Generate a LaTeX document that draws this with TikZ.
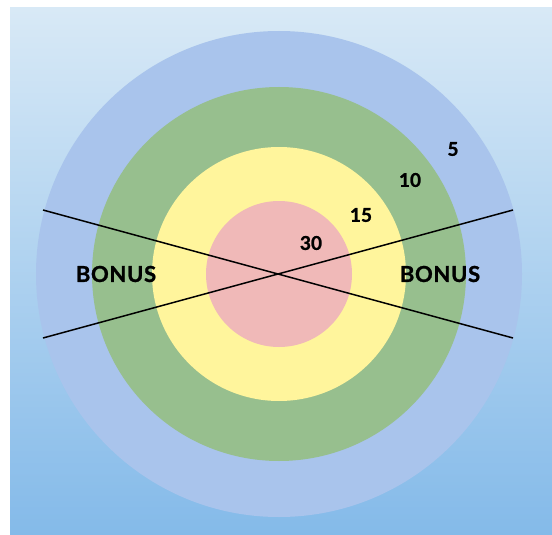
\documentclass[tikz,border=0pt]{standalone}
\usepackage{fontspec}
\setmainfont{Lato}
\newfontfamily\heavyfont{Lato}[BoldFeatures={FakeBold=1.2}]
\definecolor{ringblue}{HTML}{A9C4EC}
\definecolor{ringgreen}{HTML}{97BF8E}
\definecolor{ringyellow}{HTML}{FFF59C}
\definecolor{ringpink}{HTML}{F0B9B8}
\definecolor{skytop}{HTML}{D8E9F6}
\definecolor{skybottom}{HTML}{84BAE9}
\tikzset{
  score/.style={font=\heavyfont\bfseries\fontsize{19}{19}\selectfont},
  bonus/.style={font=\heavyfont\bfseries\fontsize{22}{22}\selectfont\addfontfeatures{LetterSpace=3}}
}
\begin{document}
\begin{tikzpicture}[x=1pt, y=-1pt]
  \useasboundingbox (0,0) rectangle (552,535);
  \shade[top color=skytop, bottom color=skybottom] (10,8) rectangle (552,535);
  % the target rings, outside in
  \foreach \r/\col in {243/ringblue, 187/ringgreen, 127/ringyellow, 73/ringpink} {
    \fill[\col] (279,274) circle (\r);
  }
  % scores
  \foreach \name/\x/\y/\pts in {five/453/149/5, ten/410/180/10, fifteen/361/215/15, thirty/311/243/30} {
    \node[score] (\name) at (\x,\y) {\pts};
  }
  \node[bonus] (bonusl) at (116,274) {BONUS};
  \node[bonus] (bonusr) at (440,274) {BONUS};
  % the two crossing lines
  \coordinate (a) at (43,210); \coordinate (b) at (513,338);
  \coordinate (c) at (43,338); \coordinate (d) at (513,210);
  \draw[line width=1.5pt] (a) -- (b);
  \draw[line width=1.5pt] (c) -- (d);
\end{tikzpicture}
\end{document}
